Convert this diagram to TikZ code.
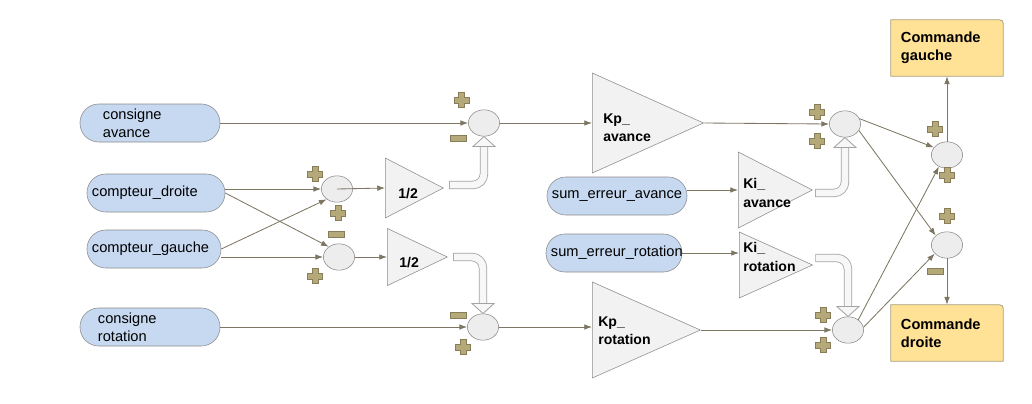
\documentclass[tikz,border=0pt]{standalone}
\usepackage{fontspec}
\setmainfont{Liberation Sans}
\usepackage{tikz}
\usetikzlibrary{shapes.geometric}
\usetikzlibrary{arrows.meta}
\usetikzlibrary{backgrounds}
\tikzset{>={Latex[length=5.5pt,width=4pt]}}
\usepackage{xcolor}
\definecolor{wirecol}{RGB}{125,118,98}
\definecolor{pillblue}{RGB}{198,217,241}
\definecolor{cmdyellow}{RGB}{255,226,150}
\definecolor{cmdedge}{RGB}{170,160,130}
\definecolor{edgegray}{RGB}{140,140,140}
\definecolor{signfill}{RGB}{181,169,122}
\definecolor{signedge}{RGB}{135,125,88}
\colorlet{sumfill}{black!7}
\colorlet{gainfill}{black!5}
\colorlet{fatfill}{black!3}
\tikzstyle{wire}=[->,wirecol,line width=0.6pt]
\tikzstyle{pill}=[draw=edgegray,fill=pillblue,rounded corners=0.47cm,minimum height=0.95cm,align=left]
\tikzstyle{sum}=[ellipse,draw=edgegray,fill=sumfill,minimum width=0.78cm,minimum height=0.66cm,inner sep=0pt]
\tikzstyle{gain}=[isosceles triangle,isosceles triangle stretches,draw=edgegray,fill=gainfill,inner sep=0pt,anchor=west]
\tikzstyle{gaintext}=[font=\bfseries\fontsize{10}{13}\selectfont,align=left,anchor=west,inner sep=0pt]
\tikzstyle{cmd}=[minimum width=2.8cm,minimum height=1.4cm,inner xsep=0.25cm,text width=2.3cm,align=left,font=\bfseries\fontsize{10.4}{12.5}\selectfont]
\tikzstyle{fatout}=[edgegray!80,line width=0.21cm,rounded corners=0.28cm]
\tikzstyle{fatin}=[fatfill,line width=0.17cm,rounded corners=0.28cm,shorten <=0.6pt]
\tikzset{
  plussym/.pic={\filldraw[fill=signfill,draw=signedge,line width=0.4pt]
    (-2.8,-7.5) -- (2.8,-7.5) -- (2.8,-2.8) -- (7.5,-2.8) -- (7.5,2.8) -- (2.8,2.8)
    -- (2.8,7.5) -- (-2.8,7.5) -- (-2.8,2.8) -- (-7.5,2.8) -- (-7.5,-2.8) -- (-2.8,-2.8) -- cycle;},
  minussym/.pic={\filldraw[fill=signfill,draw=signedge,line width=0.4pt] (-8,-3) rectangle (8,3);},
  fathead/.pic={\filldraw[fill=fatfill,draw=edgegray!80,line width=0.6pt] (0,0) -- (11,#1) -- (-11,#1) -- cycle;}
}

\begin{document}
\begin{tikzpicture}[x=0.025cm,y=-0.025cm]
  \tikzstyle{every node}=[font=\fontsize{10.4}{12.5}\selectfont]
  \useasboundingbox (0,0) rectangle (1032,403);

  % inputs
  \node[pill,inner xsep=0.575cm,text width=2.35cm] (CA) at (150,123) {consigne\\avance};
  \node[pill,inner xsep=0.125cm,text width=3.2cm] (CD) at (156,193) {compteur\_droite};
  \node[pill,inner xsep=0.125cm,text width=3.1cm] (CG) at (154,249) {compteur\_gauche};
  \node[pill,inner xsep=0.45cm,text width=2.6cm] (CR) at (150,327) {consigne\\rotation};
  \node[pill,inner xsep=0.125cm,text width=3.25cm] (SEA) at (617,196) {sum\_erreur\_avance};
  \node[pill,inner xsep=0.125cm,text width=3.15cm] (SER) at (614,253) {sum\_erreur\_rotation};

  % sums
  \node[sum] (S1) at (484,123) {};
  \node[sum] (S2) at (337,189) {};
  \node[sum] (S3) at (339,257) {};
  \node[sum] (S4) at (483,327) {};
  \node[sum] (S5) at (845,124) {};
  \node[sum] (S6) at (848,330) {};
  \node[sum] (S7) at (947,155) {};
  \node[sum] (S8) at (947,245) {};

  % gains (minimum height = base to apex, minimum width = base)
  \node[gain,minimum height=1.45cm,minimum width=1.5cm] (T1) at (385,188) {};
  \node[gain,minimum height=1.5cm,minimum width=1.43cm] (T2) at (387,257) {};
  \node[gain,minimum height=2.78cm,minimum width=2.5cm] (Kpa) at (592,123) {};
  \node[gain,minimum height=1.85cm,minimum width=1.9cm] (KIA) at (738,190) {};
  \node[gain,minimum height=1.83cm,minimum width=1.65cm] (KIR) at (739,265) {};
  \node[gain,minimum height=2.7cm,minimum width=2.4cm] (Kpr) at (592,330) {};
  \node[gaintext] (T1-t) at (398,194) {1/2};
  \node[gaintext] (T2-t) at (399,263) {1/2};
  \node[gaintext] (Kpa-t) at (603,128) {Kp\_\\avance};
  \node[gaintext] (KIA-t) at (743,193) {Ki\_\\avance};
  \node[gaintext] (KIR-t) at (743,257) {Ki\_\\rotation};
  \node[gaintext] (Kpr-t) at (598,331) {Kp\_\\rotation};

  % outputs
  \node[cmd] (CmdG) at (947,48) {Commande\\gauche};
  \node[cmd] (CmdD) at (947,333) {Commande\\droite};
  \begin{scope}[on background layer]
    \foreach \b in {CmdG,CmdD}
      \filldraw[fill=cmdyellow,draw=cmdedge,line width=0.6pt] (\b.south west) -- (\b.north west)
        -- ([xshift=-6pt]\b.north east) .. controls (\b.north east) .. ([yshift=-6pt]\b.north east)
        -- (\b.south east) -- cycle;
  \end{scope}

  % wires
  \draw[wire] (CA.east) -- (S1.west);
  \draw[wire] (S1.east) -- (Kpa.west);
  \draw[wire] (Kpa.apex) -- (S5.west);
  \draw[wire] (CD.east |- S2.west) -- (S2.west);
  \draw[wire] (CD.east) -- (S3.135);
  \draw[wire] (CG.east) -- (S2.225);
  \draw[wire] (CG.east |- S3.west) -- (S3.west);
  \draw[wire] (S2.center) -- (T1.west);
  \draw[wire] (S3.east) -- (T2.west);
  \draw[wire] (CR.east) -- (S4.west);
  \draw[wire] (S4.east) -- (S4.east -| Kpr.west);
  \draw[wire] (Kpr.apex) -- (S6.west);
  \draw[wire] (SEA.east |- KIA.west) -- (KIA.west);
  \draw[wire] (SER.east) -- (SER.east -| KIR.west);
  \draw[wire] (S5.20) -- (S7.150);
  \draw[wire] (S5.-25) -- (S8.140);
  \draw[wire] (S6.45) -- (S7.235);
  \draw[wire] (S6.10) -- (S8.215);
  \draw[wire] (S7.north) -- (CmdG.south);
  \draw[wire] (S8.south) -- (CmdD.north);

  % hollow arrows
  \foreach \g/\s/\a/\d/\sx/\sy in {T1/S1/south/10/5/-3, T2/S4/north/-10/5/0,
                                   KIA/S5/south/10/2/3, KIR/S6/north/-10/2/-7} {
    \draw[fatout] ([shift={(\sx,\sy)}]\g.apex) -| ([shift={(0,\d)}]\s.\a);
    \draw[fatin] ([shift={(\sx,\sy)}]\g.apex) -| ([shift={(0,\d)}]\s.\a);
    \pic at (\s.\a) {fathead=\d};
  }

  % signs
  \foreach \s/\dx/\dy in {S1/-22.5/-23, S2/-22/-15, S2/1/24, S3/-24/19, S4/-20/20,
                          S5/-28/-12, S5/-28/17, S6/-25/-15, S6/-25/15, S7/-12/-26, S7/0/20, S8/0/-29}
    \pic at ([shift={(\dx,\dy)}]\s) {plussym};
  \foreach \s/\dx/\dy in {S1/-26/15.5, S3/-3/-23, S4/-25/-12, S8/-12/26}
    \pic at ([shift={(\dx,\dy)}]\s) {minussym};
\end{tikzpicture}
\end{document}
